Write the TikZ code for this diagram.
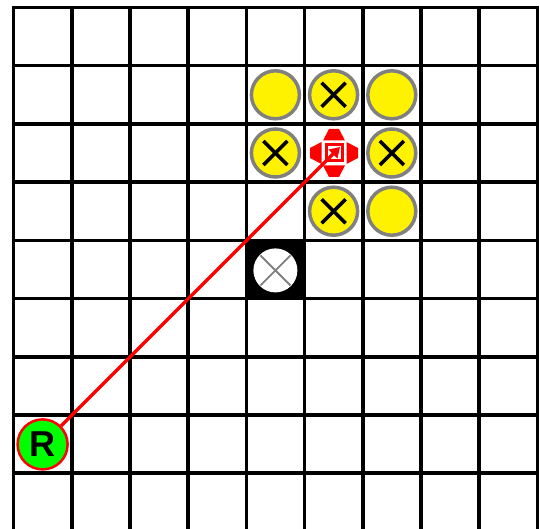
\documentclass[tikz,border=0pt]{standalone}
\usepackage{fontspec}
\setmainfont{Liberation Sans}
\usetikzlibrary{arrows.meta,calc}
\begin{document}
\begin{tikzpicture}[x=1pt,y=-1pt,
  gridline/.style={line width=3.6pt, black},
  coin/.style={circle, fill=yellow, draw=gray, line width=3.5pt, minimum size=48pt, inner sep=0pt},
  xmark/.style={line width=3.6pt, black},
  holex/.style={line width=1.8pt, gray},
  tri/.style={fill=red, draw=none},
  robot/.style={circle, fill=green, draw=red, line width=2.5pt, minimum size=50pt, inner sep=0pt,
    font=\bfseries\fontsize{36}{36}\selectfont},
  ray/.style={red, line width=3.5pt, -{Triangle[length=10pt,width=12pt]}}
]
\useasboundingbox (0,0) rectangle (540,529);
% grid
\begin{scope}
\clip (0,0) rectangle (540,529);
\foreach \i in {0,...,9} \draw[gridline] ({13.5+58.2*\i},6) -- ({13.5+58.2*\i},540);
\foreach \j in {0,...,9} \draw[gridline] (12,{7.5+58.2*\j}) -- (539,{7.5+58.2*\j});
\end{scope}
% yellow coins
\node[coin] (c14) at (275.4,94.8) {};
\node[coin] (c15) at (333.6,94.8) {};
\node[coin] (c16) at (391.8,94.8) {};
\node[coin] (c24) at (275.4,153.0) {};
\node[coin] (c26) at (391.8,153.0) {};
\node[coin] (c35) at (333.6,211.2) {};
\node[coin] (c36) at (391.8,211.2) {};
\foreach \n in {c15,c24,c26,c35} {
  \draw[xmark] ([shift={(-12,-12)}]\n.center) -- ([shift={(12,12)}]\n.center);
  \draw[xmark] ([shift={(-12,12)}]\n.center) -- ([shift={(12,-12)}]\n.center);
}
% black cell with hole
\node[fill=black, minimum size=58pt, inner sep=0pt] (blk) at (275.4,270.4) {};
\node[circle, fill=white, minimum size=44pt, inner sep=0pt] (hole) at (blk.center) {};
\draw[holex] ([shift={(-15,-15)}]hole.center) -- ([shift={(15,15)}]hole.center);
\draw[holex] ([shift={(-15,15)}]hole.center) -- ([shift={(15,-15)}]hole.center);
% target
\coordinate (T) at (334,153);
\begin{scope}[shift={(T)}]
  \fill[red] (-9.5,-9.5) rectangle (9.5,9.5);
  \fill[white] (-6.5,-6.5) rectangle (6.5,6.5);
  \fill[tri] (-11,-12.5) -- (11,-12.5) -- (5,-24) -- (-5,-24) -- cycle;
  \fill[tri] (-11,12.5) -- (11,12.5) -- (5,24) -- (-5,24) -- cycle;
  \fill[tri] (-12.5,-11) -- (-12.5,11) -- (-24,5) -- (-24,-5) -- cycle;
  \fill[tri] (12.5,-11) -- (12.5,11) -- (24,5) -- (24,-5) -- cycle;
\end{scope}
\coordinate (tip) at ($(T)+(6,-6)$);
% robot
\node[robot] (R) at (42.6,444.4) {R};
\draw[ray] (R) -- (tip);
\end{tikzpicture}
\end{document}
